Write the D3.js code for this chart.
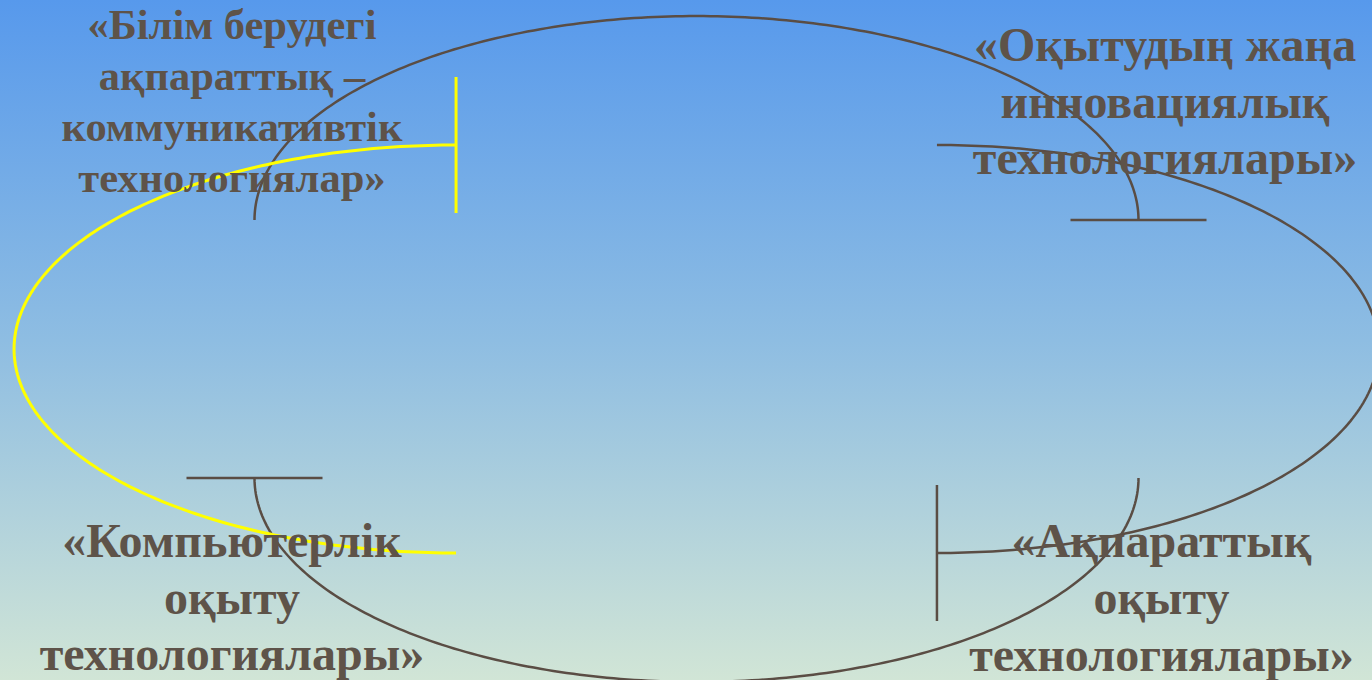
<!DOCTYPE html>
<html>
<head>
<meta charset="utf-8">
<script src="https://cdn.jsdelivr.net/npm/d3@7"></script>
<style>
  html, body { margin: 0; padding: 0; overflow: hidden; }
  svg { display: block; }
</style>
</head>
<body>
<div id="chart"></div>
<script>
// cycle steps, clockwise from top-left
const stepLabels = [
  ["«Білім берудегі", "ақпараттық –", "коммуникативтік", "технологиялар»"],
  ["«Оқытудың жаңа", "инновациялық", "технологиялары»"],
  ["«Ақпараттық", "оқыту", "технологиялары»"],
  ["«Компьютерлік", "оқыту", "технологиялары»"]
];
// arc that leads into each position of the cycle
const arcSides = ["top", "right", "bottom", "left"];
const highlightedArc = "left";

const width = 1372, height = 680;
const svg = d3.select("#chart").append("svg")
  .attr("width", width).attr("height", height);

//#region background
const defs = svg.append("defs");
const grad = defs.append("linearGradient")
  .attr("id", "bg").attr("x1", 0).attr("y1", 0).attr("x2", 0).attr("y2", 1);
grad.append("stop").attr("offset", "0%").attr("stop-color", "#5799ec");
grad.append("stop").attr("offset", "50%").attr("stop-color", "#8ebde2");
grad.append("stop").attr("offset", "100%").attr("stop-color", "#d1e5d6");
svg.append("rect").attr("width", width).attr("height", height).attr("fill", "url(#bg)");
//#endregion

//#region scales (unit ellipse -> pixels)
const x = d3.scaleLinear().domain([-1, 1]).range([254.5, 1138.5]);
const y = d3.scaleLinear().domain([-1, 1]).range([145, 553]);
const offX = 0.544, offY = 0.632;
const barHalf = 68; // px
//#endregion

//#region arcs
const arcGeom = {
  top:    { c: [0, -offY], a0: Math.PI, a1: 2 * Math.PI },
  right:  { c: [offX, 0], a0: -Math.PI / 2, a1: Math.PI / 2 },
  bottom: { c: [0, offY], a0: 0, a1: Math.PI },
  left:   { c: [-offX, 0], a0: Math.PI / 2, a1: 1.5 * Math.PI }
};
const line = d3.line().x(d => x(d[0])).y(d => y(d[1]));

arcSides.forEach(side => {
  const g = arcGeom[side];
  const pts = d3.range(0, 201).map(i => {
    const a = g.a0 + (g.a1 - g.a0) * i / 200;
    return [g.c[0] + Math.cos(a), g.c[1] + Math.sin(a)];
  });
  const colour = side === highlightedArc ? "#ffff00" : "#5a4d44";
  const sw = side === highlightedArc ? 3 : 2.5;
  svg.append("path").attr("d", line(pts))
    .attr("fill", "none").attr("stroke", colour).attr("stroke-width", sw);
  // T end, perpendicular to the arc tangent
  const end = pts[pts.length - 1];
  const ex = x(end[0]), ey = y(end[1]);
  const vertical = side === "top" || side === "bottom";
  svg.append("line")
    .attr("x1", vertical ? ex - barHalf : ex).attr("x2", vertical ? ex + barHalf : ex)
    .attr("y1", vertical ? ey : ey - barHalf).attr("y2", vertical ? ey : ey + barHalf)
    .attr("stroke", colour).attr("stroke-width", sw);
});
//#endregion

//#region labels
const labelLayout = [
  { cx: -1.051, top: -1.52, size: 42.5, lh: 51 },
  { cx: 1.06, top: -1.41, size: 48, lh: 56.5 },
  { cx: 1.052, top: 1.02, size: 48, lh: 57 },
  { cx: -1.051, top: 1.02, size: 48, lh: 56.5 }
];
stepLabels.forEach((lines, i) => {
  const L = labelLayout[i];
  const t = svg.append("text")
    .attr("text-anchor", "middle")
    .attr("font-family", "'Times New Roman', 'Liberation Serif', serif")
    .attr("font-weight", "bold")
    .attr("font-size", L.size)
    .attr("fill", "#5e5349");
  lines.forEach((s, j) => {
    t.append("tspan").attr("x", x(L.cx)).attr("y", y(L.top) + j * L.lh).text(s);
  });
});
//#endregion
</script>
</body>
</html>
